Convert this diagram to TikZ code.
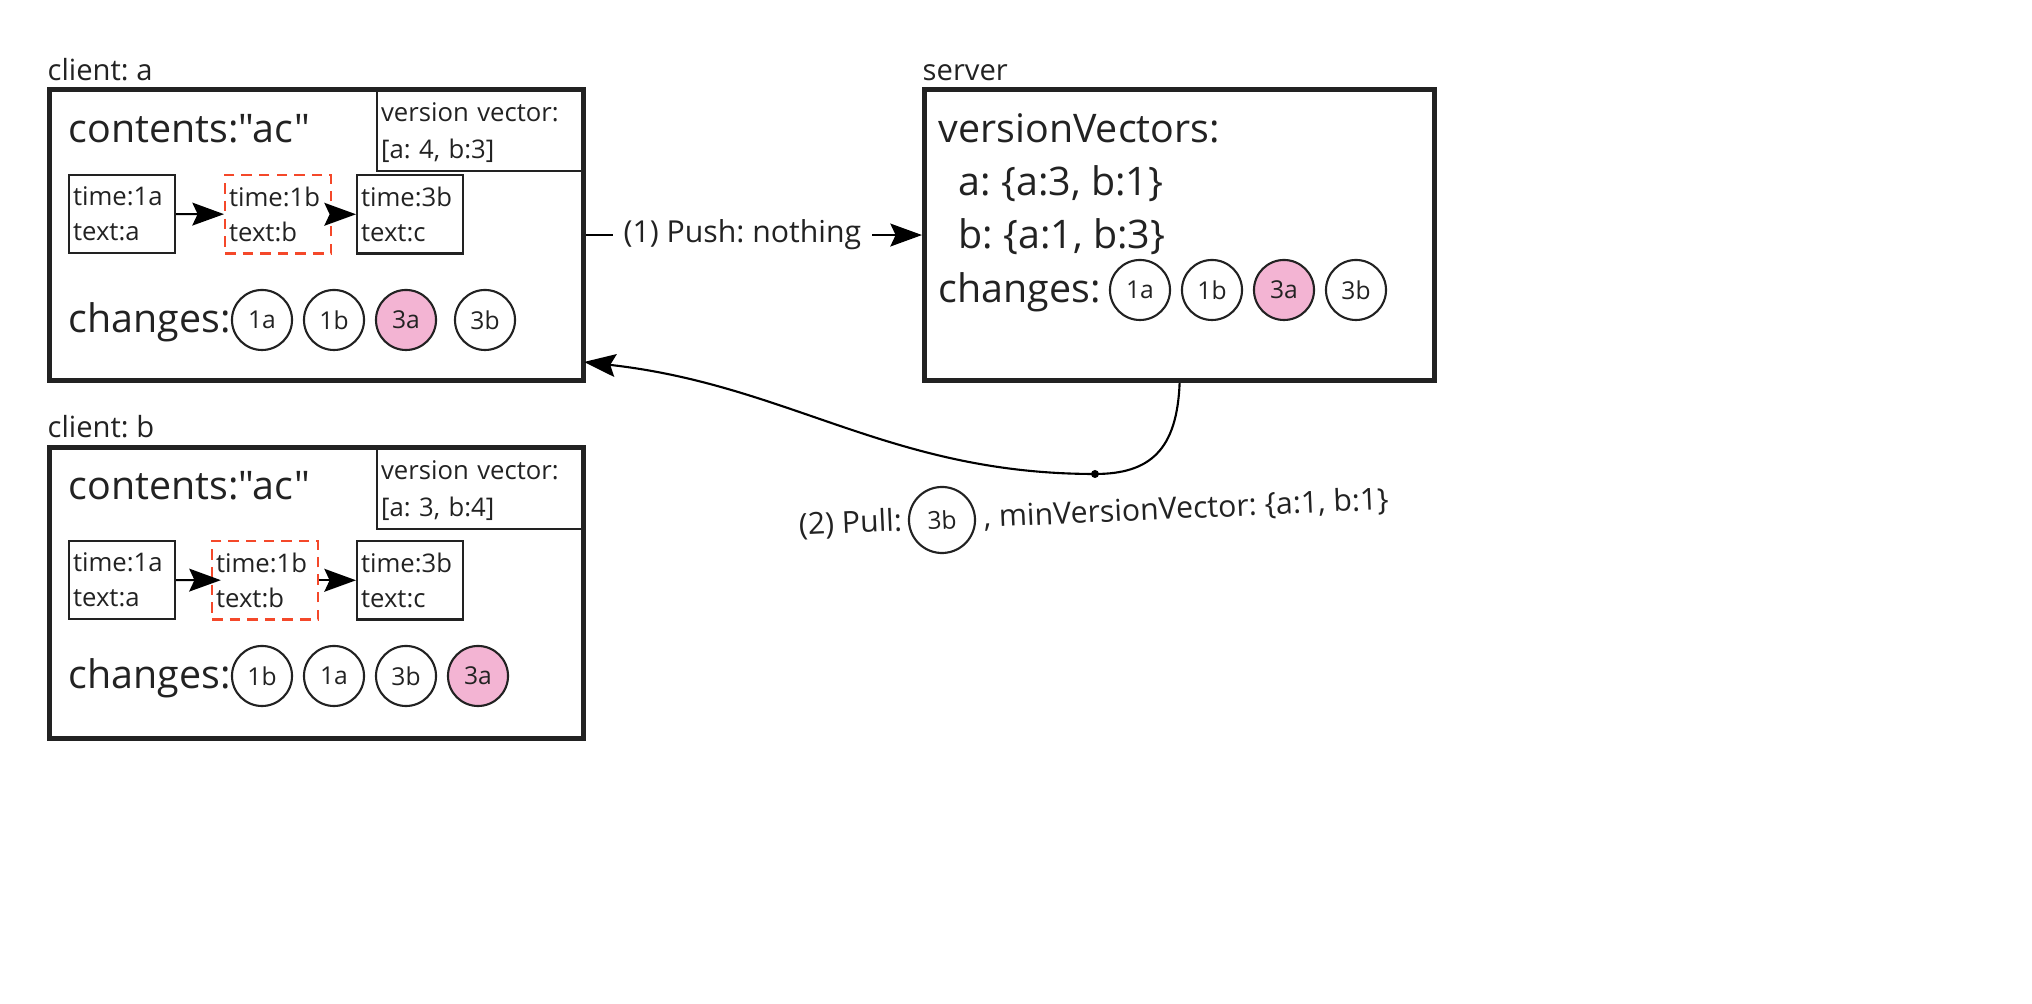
\documentclass[tikz,border=0pt]{standalone}
\usepackage{fontspec}
\setmainfont{Open Sans}[Ligatures=TeXOff]
\usetikzlibrary{arrows.meta,positioning}
\definecolor{ink}{HTML}{222222}
\definecolor{seenpink}{HTML}{F3B4D3}
\definecolor{dashred}{HTML}{F4482A}
\newcommand{\bigtext}{\fontsize{11.2}{13}\selectfont}
\newcommand{\smalltext}{\fontsize{7.3}{10}\selectfont}
\newcommand{\vvtext}{\fontsize{7.3}{10.5}\selectfont}
\newcommand{\headtext}{\fontsize{8.3}{10}\selectfont}
\newcommand{\changetext}{\fontsize{7}{8}\selectfont}
\newcommand{\msgtext}{\fontsize{8.6}{10}\selectfont}
\frenchspacing
\begin{document}
\begin{tikzpicture}
  [x=0.01cm,y=-0.01cm,ink,
   bigbox/.style={rectangle,draw=ink,line width=1.4pt,anchor=north west,
                  minimum height=2.91cm,inner sep=0},
   vvbox/.style={rectangle,draw=ink,line width=0.6pt,anchor=north west,
                 minimum width=2.05cm,minimum height=0.83cm,text width=1.97cm,
                 inner xsep=0.04cm,inner ysep=0,align=left,font=\vvtext,
                 execute at begin node=\rule{0pt}{7pt}},
   event/.style={rectangle,draw=ink,line width=0.6pt,anchor=north west,
                 minimum width=1.06cm,minimum height=0.7cm,text width=0.98cm,
                 inner xsep=0.04cm,align=left,font=\smalltext},
   newevent/.style={event,draw=dashred,dash pattern=on 3pt off 2pt},
   change/.style={circle,draw=ink,line width=0.6pt,minimum size=0.6cm,
                  inner sep=0,font=\changetext},
   seen/.style={change,fill=seenpink},
   head/.style={anchor=base west,inner sep=0,font=\headtext},
   big/.style={anchor=base west,inner sep=0,font=\bigtext},
   flow/.style={draw=black,line width=0.6pt,
                -{Stealth[length=9pt,width=6.5pt,inset=1.5pt]}}]
  \useasboundingbox (0,0) rectangle (2032,1004);
  % client a
  \node[head] (labela) at (47,81) {client: a};
  \node[bigbox,minimum width=5.34cm] (clienta) at (47,87) {};
  \node[vvbox] (vva) at (376,87) {version vector:\\{[a: 4, b:3]}};
  \node[big] (conta) at (68,143) {contents:"ac"};
  \node[event] (a1) at (68,174) {time:1a\\text:a};
  \node[newevent] (a2) at (224,174) {time:1b\\text:b};
  \node[event] (a3) at (356,174) {time:3b\\text:c};
  \draw[flow] (a1) to (a2);
  \draw[flow] (a2) to (a3);
  \node[big] (cha) at (68,333) {changes:};
  \node[change] (ca1) at (262,320) {1a};
  \node[change] (ca2) at (334,320) {1b};
  \node[seen] (ca3) at (406,320) {3a};
  \node[change] (ca4) at (485,320) {3b};
  % client b
  \node[head] (labelb) at (47,438) {client: b};
  \node[bigbox,minimum width=5.34cm] (clientb) at (47,445) {};
  \node[vvbox] (vvb) at (376,445) {version vector:\\{[a: 3, b:4]}};
  \node[big] (contb) at (68,500) {contents:"ac"};
  \node[event] (b1) at (68,540) {time:1a\\text:a};
  \node[newevent] (b2) at (211,540) {time:1b\\text:b};
  \node[event] (b3) at (356,540) {time:3b\\text:c};
  \draw[flow,shorten >=-2.8pt] (b1) to (b2);
  \draw[flow] (b2) to (b3);
  \node[big] (chb) at (68,689) {changes:};
  \node[change] (cb1) at (262,676) {1b};
  \node[change] (cb2) at (334,676) {1a};
  \node[change] (cb3) at (406,676) {3b};
  \node[seen] (cb4) at (478,676) {3a};
  % server
  \node[head] (labels) at (922,81) {server};
  \node[bigbox,minimum width=5.10cm] (server) at (922,87) {};
  \node[big] (vvs) at (938,143) {versionVectors:};
  \node[big] (vsa) at (958,196) {a: \{a:3, b:1\}};
  \node[big] (vsb) at (958,249) {b: \{a:1, b:3\}};
  \node[big] (chs) at (938,303) {changes:};
  \node[change] (cs1) at (1140,290) {1a};
  \node[change] (cs2) at (1212,290) {1b};
  \node[seen] (cs3) at (1284,290) {3a};
  \node[change] (cs4) at (1356,290) {3b};
  % push
  \draw[flow] (clienta) to
    node[pos=0.465,fill=white,font=\msgtext,inner xsep=3pt] (push) {(1) Push: nothing}
    (server);
  % pull
  \node[circle,fill=black,inner sep=0,minimum size=0.08cm] (dot) at (1095,474) {};
  \coordinate (pullend) at (584,362);
  \draw[black,line width=0.6pt] (server.south)
    .. controls (1177,450) and (1150,474) .. (dot.center);
  \draw[flow] (dot.center) .. controls (890,474) and (790,385) .. (pullend);
  \node[change,minimum size=0.66cm,rotate=2.5] (pullc) at (942,520) {3b};
  \node[anchor=east,rotate=2.5,font=\msgtext,inner sep=1.5pt] (pulla)
    at (pullc.west) {(2) Pull:};
  \node[anchor=west,rotate=2.5,font=\msgtext,inner sep=2pt] (pullb)
    at (pullc.east) {, minVersionVector: \{a:1, b:1\}};
\end{tikzpicture}
\end{document}
